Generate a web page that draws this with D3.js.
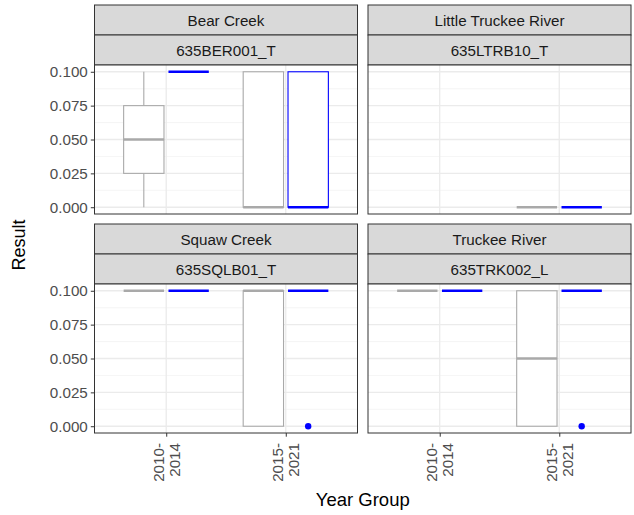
<!DOCTYPE html>
<html>
<head>
<meta charset="utf-8">
<script src="https://cdn.jsdelivr.net/npm/d3@7"></script>
<style>
  body { margin: 0; background: #fff; }
  text { font-family: "Liberation Sans", Arial, sans-serif; }
</style>
</head>
<body>
<svg id="chart" width="634" height="515"></svg>
<script>
    // facets
    var sites = ["Bear Creek", "Little Truckee River", "Squaw Creek", "Truckee River"];
    var stations = ["635BER001_T", "635LTRB10_T", "635SQLB01_T", "635TRK002_L"];
    var yearGroups = ["2010-2014", "2015-2021"];
    var series = ["grey", "blue"];
    var seriesColors = ["#A9A9A9", "#0000FF"];
    var yTicks = [0, 0.025, 0.05, 0.075, 0.1];

    // box stats per site, per year group: [min, q1, median, q3, max]; null = no data
    var greyStats = [
      [[0, 0.025, 0.05, 0.075, 0.1], [0, 0, 0, 0.1, 0.1]],
      [null, [0, 0, 0, 0, 0]],
      [[0.1, 0.1, 0.1, 0.1, 0.1], [0, 0, 0.1, 0.1, 0.1]],
      [[0.1, 0.1, 0.1, 0.1, 0.1], [0, 0, 0.05, 0.1, 0.1]]
    ];
    var blueStats = [
      [[0.1, 0.1, 0.1, 0.1, 0.1], [0, 0, 0, 0.1, 0.1]],
      [null, [0, 0, 0, 0, 0]],
      [[0.1, 0.1, 0.1, 0.1, 0.1], [0.1, 0.1, 0.1, 0.1, 0.1]],
      [[0.1, 0.1, 0.1, 0.1, 0.1], [0.1, 0.1, 0.1, 0.1, 0.1]]
    ];
    var blueOutliers = [
      [[], []],
      [[], []],
      [[], [0]],
      [[], [0]]
    ];

    var svg = d3.select("#chart");
    var colX = [94.5, 368], rowY = [5, 224];
    var panelW = 263, stripH = 30, plotH = 149;

    var xScale = d3.scalePoint().domain(yearGroups).range([0, panelW]).padding(0.6);
    var step = xScale.step();
    var dodge = d3.scaleBand().domain(series).range([-0.375 * step, 0.375 * step]);
    var boxW = dodge.bandwidth() * 0.9;
    var yScale = d3.scaleLinear().domain([-0.005, 0.105]).range([plotH, 0]);
    var colorScale = d3.scaleOrdinal().domain(series).range(seriesColors);

    var minorTicks = [0.0125, 0.0375, 0.0625, 0.0875];

    sites.forEach(function(site, i) {
      var col = i % 2, row = Math.floor(i / 2);
      var g = svg.append("g").attr("transform", "translate(" + colX[col] + "," + rowY[row] + ")");

      // strips
      [site, stations[i]].forEach(function(label, k) {
        g.append("rect")
          .attr("x", 0).attr("y", k * stripH)
          .attr("width", panelW).attr("height", stripH)
          .attr("fill", "#D9D9D9").attr("stroke", "#333333").attr("stroke-width", 1);
        g.append("text")
          .attr("x", panelW / 2).attr("y", k * stripH + stripH / 2 + 5.5)
          .attr("text-anchor", "middle")
          .attr("font-size", "15.2px").attr("fill", "#1A1A1A")
          .text(label);
      });

      var p = g.append("g").attr("transform", "translate(0," + (2 * stripH) + ")");
      p.append("rect").attr("width", panelW).attr("height", plotH).attr("fill", "#fff");

      // grid
      p.selectAll(".minor").data(minorTicks).enter().append("line")
        .attr("x1", 0).attr("x2", panelW)
        .attr("y1", d => yScale(d)).attr("y2", d => yScale(d))
        .attr("stroke", "#F2F2F2").attr("stroke-width", 0.8);
      p.selectAll(".major").data(yTicks).enter().append("line")
        .attr("x1", 0).attr("x2", panelW)
        .attr("y1", d => yScale(d)).attr("y2", d => yScale(d))
        .attr("stroke", "#EBEBEB").attr("stroke-width", 1.3);
      p.selectAll(".vmajor").data(yearGroups).enter().append("line")
        .attr("x1", d => xScale(d)).attr("x2", d => xScale(d))
        .attr("y1", 0).attr("y2", plotH)
        .attr("stroke", "#EBEBEB").attr("stroke-width", 1.3);

      // boxes
      var statsBySeries = [greyStats[i], blueStats[i]];
      series.forEach(function(s, si) {
        var color = colorScale(s);
        yearGroups.forEach(function(yg, yi) {
          var st = statsBySeries[si][yi];
          if (!st) return;
          var cx = xScale(yg) + dodge(s) + dodge.bandwidth() / 2;
          var b = p.append("g");
          // whiskers
          b.append("line").attr("x1", cx).attr("x2", cx)
            .attr("y1", yScale(st[0])).attr("y2", yScale(st[1]))
            .attr("stroke", color).attr("stroke-width", 1.1);
          b.append("line").attr("x1", cx).attr("x2", cx)
            .attr("y1", yScale(st[3])).attr("y2", yScale(st[4]))
            .attr("stroke", color).attr("stroke-width", 1.1);
          b.append("rect")
            .attr("x", cx - boxW / 2).attr("width", boxW)
            .attr("y", yScale(st[3])).attr("height", yScale(st[1]) - yScale(st[3]))
            .attr("fill", "#fff").attr("stroke", color).attr("stroke-width", 1.1);
          b.append("line")
            .attr("x1", cx - boxW / 2).attr("x2", cx + boxW / 2)
            .attr("y1", yScale(st[2])).attr("y2", yScale(st[2]))
            .attr("stroke", color).attr("stroke-width", 2.4);
          if (si === 1) {
            blueOutliers[i][yi].forEach(function(v) {
              b.append("circle").attr("cx", cx).attr("cy", yScale(v)).attr("r", 3.2).attr("fill", color);
            });
          }
        });
      });

      p.append("rect").attr("width", panelW).attr("height", plotH)
        .attr("fill", "none").attr("stroke", "#333333").attr("stroke-width", 1);

      // y axis on left column
      if (col === 0) {
        var ya = p.append("g").call(d3.axisLeft(yScale).tickValues(yTicks).tickFormat(d3.format(".3f")).tickSize(3.7).tickPadding(3));
        ya.select(".domain").remove();
        ya.selectAll("line").attr("stroke", "#333333").attr("stroke-width", 1);
        ya.selectAll("text").attr("font-size", "15.2px").attr("fill", "#4D4D4D").attr("font-family", "Liberation Sans, Arial, sans-serif");
      }
      // x axis on bottom row
      if (row === 1) {
        var xa = p.append("g").attr("transform", "translate(0," + plotH + ")")
          .call(d3.axisBottom(xScale).tickSize(3.7).tickFormat(""));
        xa.select(".domain").remove();
        xa.selectAll("line").attr("stroke", "#333333").attr("stroke-width", 1);
        yearGroups.forEach(function(yg) {
          var parts = yg.split("-");
          var t = p.append("text")
            .attr("transform", "translate(" + xScale(yg) + "," + (plotH + 10) + ") rotate(-90)")
            .attr("text-anchor", "end")
            .attr("font-size", "15.2px").attr("fill", "#4D4D4D");
          t.append("tspan").attr("x", 0).attr("y", -2.5).text(parts[0] + "-");
          t.append("tspan").attr("x", 0).attr("y", 13.5).text(parts[1]);
        });
      }
    });

    // axis titles
    svg.append("text")
      .attr("x", 362.75).attr("y", 506)
      .attr("text-anchor", "middle").attr("font-size", "18.5px").attr("fill", "#000")
      .text("Year Group");
    svg.append("text")
      .attr("transform", "translate(25,245) rotate(-90)")
      .attr("text-anchor", "middle").attr("font-size", "18px").attr("fill", "#000")
      .text("Result");
</script>
</body>
</html>
